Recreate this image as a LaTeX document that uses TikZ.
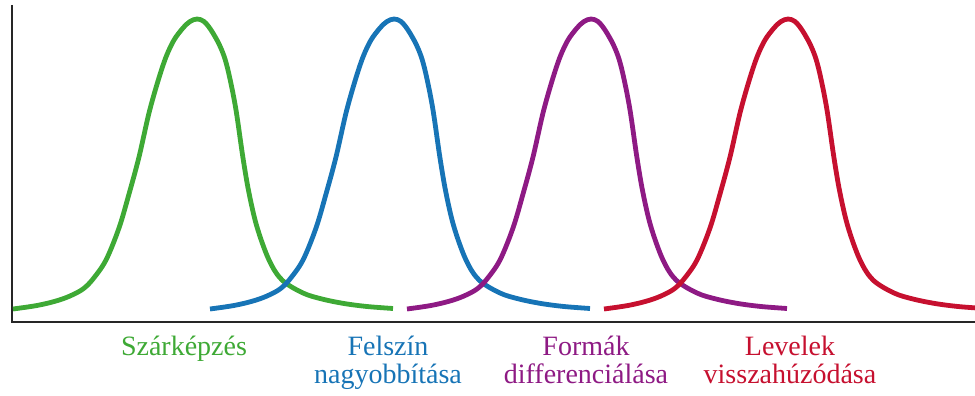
\documentclass[tikz,border=0pt]{standalone}
\usepackage{fontspec}
\setmainfont{Liberation Serif}
\definecolor{cgreen}{HTML}{3EA935}
\definecolor{cblue}{HTML}{1774B6}
\definecolor{cpurple}{HTML}{8E1A84}
\definecolor{cred}{HTML}{C6102F}
\begin{document}
\begin{tikzpicture}[x=1pt,y=-1pt,
  curve/.style={line width=4.8pt},
  axisline/.style={line width=2.6pt, black!85},
  lbl/.style={font=\fontsize{28}{28}\selectfont, text width=240pt, align=center, anchor=base, inner sep=0pt}]
\useasboundingbox (0,0) rectangle (975,396);
\clip (0,0) rectangle (975,396);
\coordinate (top) at (12,5);
\coordinate (o) at (12,322);
\coordinate (xend) at (976,322);
\draw[axisline] (top) -- (o) -- (xend);
\foreach \px/\col in {197/cgreen,394/cblue,591/cpurple,788/cred}{
  \draw[curve,\col,shift={(\px,309)}] plot[smooth,tension=0.55] coordinates {
    (-184,0) (-160,-3.5) (-141,-8) (-127,-13) (-114,-20) (-104,-30) (-91,-49) (-78,-81)
    (-68,-115) (-58,-152) (-48,-196) (-39,-228) (-31,-252) (-23,-269) (-14,-281) (-7,-287.5) (0,-290)
    (7,-287.5) (14,-279) (22,-265) (28,-250) (33,-230) (39,-199) (46,-151) (52,-116) (60,-82)
    (72,-49) (85,-29) (106,-16) (125,-10) (147,-5.5) (170,-2.5) (196,-0.5)};
}
\node[lbl, text=cgreen] (l1) at (184,355) {Szárképzés};
\node[lbl, text=cblue] (l2) at (388,355) {Felszín\\nagyobbítása};
\node[lbl, text=cpurple] (l3) at (586,355) {Formák\\differenciálása};
\node[lbl, text=cred] (l4) at (790,355) {Levelek\\visszahúzódása};
\end{tikzpicture}
\end{document}
